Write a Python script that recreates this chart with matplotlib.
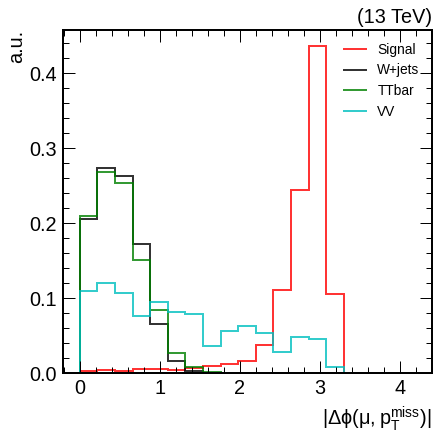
import matplotlib
matplotlib.use("Agg")
import matplotlib.pyplot as plt
import numpy as np
from matplotlib.ticker import MultipleLocator

# histogrammes normalises, 15 bins de largeur 0.22 entre 0 et 3.3
bin_edges = np.linspace(0, 3.3, 16)

signal = [0.0025, 0.004, 0.0025, 0.005, 0.005, 0.004, 0.0065, 0.010,
          0.012, 0.016, 0.038, 0.111, 0.244, 0.436, 0.105]
wjets = [0.206, 0.274, 0.2636, 0.172, 0.0658, 0.0165, 0.003, 0.0,
         0.0, 0.0, 0.0, 0.0, 0.0, 0.0, 0.0]
ttbar = [0.2093, 0.2684, 0.2538, 0.1507, 0.084, 0.0262, 0.0085, 0.001,
         0.0, 0.0, 0.0, 0.0, 0.0, 0.0, 0.0]
vv = [0.1098, 0.120, 0.1067, 0.0765, 0.095, 0.0813, 0.079, 0.036,
      0.056, 0.0622, 0.0538, 0.0284, 0.0484, 0.0453, 0.0076]

noms = ["Signal", "W+jets", "TTbar", "VV"]
couleurs = ["red", "black", "green", "c"]

plt.rcParams['font.family'] = ['Liberation Sans', 'DejaVu Sans']
plt.rcParams['mathtext.default'] = 'regular'
plt.rcParams['axes.linewidth'] = 2.6

fig = plt.figure(figsize=(8, 8), dpi=55)
ax = fig.add_axes([0.143, 0.152, 0.8386, 0.7795])

for h, nom, c in zip([signal, wjets, ttbar, vv], noms, couleurs):
    ax.stairs(h, bin_edges, color=c, alpha=0.8, lw=2.6, label=nom)

ax.set_xlim(-0.21, 4.4)
ax.set_ylim(0, 0.4575)
ax.xaxis.set_major_locator(MultipleLocator(1))
ax.xaxis.set_minor_locator(MultipleLocator(0.2))
ax.yaxis.set_major_locator(MultipleLocator(0.1))
ax.yaxis.set_minor_locator(MultipleLocator(0.02))
ax.tick_params(which='both', direction='in', top=True, right=True, labelsize=26, width=1.3)
ax.tick_params(which='major', length=15.7, pad=8)
ax.tick_params(which='minor', length=7.9)

ax.set_xlabel(r'$|\Delta\phi(\mu, p_T^{miss})|$', fontsize=26, loc='right', labelpad=8)
ax.set_ylabel('a.u.', fontsize=26, loc='top')
ax.text(1.0, 1.008, '(13 TeV)', transform=ax.transAxes, ha='right', va='bottom', fontsize=26)

ax.legend(loc='upper right', frameon=False, fontsize=18, handlelength=1.6, handletextpad=0.85)

plt.savefig('out.png', dpi=55)
